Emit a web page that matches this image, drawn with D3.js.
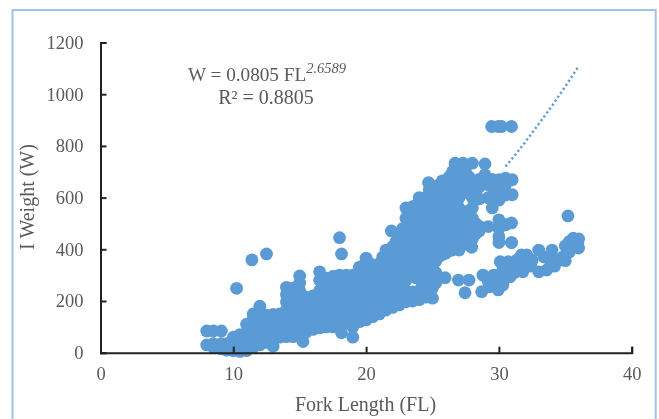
<!DOCTYPE html>
<html>
<head>
<meta charset="utf-8">
<script src="https://cdn.jsdelivr.net/npm/d3@7"></script>
<style>
  html, body { margin: 0; padding: 0; background: #fff; }
  svg { display: block; filter: blur(0.45px); }
  text { font-family: "Liberation Serif", serif; fill: #595959; }
</style>
</head>
<body>
<div id="chart"></div>
<script>
const xTicks = [0, 10, 20, 30, 40];
const yTicks = [0, 200, 400, 600, 800, 1000, 1200];

// main body of the scatter, read column by column
const lengthBins = [8, 8.5, 9.1, 9.5, 10, 10.5, 11, 11.5, 12, 12.5, 13, 13.5, 14, 14.5, 15, 15.5, 16, 16.5, 17, 17.5, 18, 18.5, 19, 19.5, 20, 20.5, 21, 21.5, 22, 22.5, 23, 23.5, 24, 24.5, 25, 25.5, 26, 26.5, 27, 27.5, 28, 28.5, 29.2, 29.5, 30, 30.5, 31];
const weightBins = [
  [30, 84],
  [20, 35, 84],
  [15, 35, 84],
  [10, 35],
  [8, 30, 60],
  [5, 30, 70],
  [8, 40, 75, 110],
  [20, 55, 90, 130, 150],
  [30, 65, 100, 140, 180],
  [40, 75, 110, 145],
  [25, 60, 95, 130, 148],
  [60, 90, 120, 150],
  [62, 90, 130, 165, 197, 225, 253],
  [62, 90, 130, 170, 200, 250],
  [80, 120, 160, 200, 240, 270, 297],
  [80, 115, 150, 190, 200],
  [90, 130, 170, 200, 220],
  [96, 130, 170, 200, 240, 280, 313],
  [100, 140, 180, 220, 260, 288],
  [100, 140, 180, 220, 260, 295],
  [110, 150, 190, 230, 270, 300],
  [115, 150, 190, 230, 270, 300],
  [100, 140, 180, 220, 260, 300],
  [120, 160, 200, 240, 280, 331],
  [127, 170, 210, 250, 290, 330, 366],
  [139, 180, 220, 260, 300, 340],
  [150, 190, 230, 270, 310, 345],
  [165, 200, 240, 280, 320, 360, 397],
  [175, 210, 250, 290, 330, 370, 410],
  [185, 220, 260, 300, 340, 380, 420, 460],
  [197, 240, 280, 320, 360, 400, 440, 480, 520, 560],
  [200, 235, 310, 350, 390, 430, 470, 510, 550, 565],
  [205, 240, 290, 330, 370, 410, 450, 490, 530, 570, 600],
  [215, 242, 285, 330, 370, 410, 450, 490, 530, 570, 600],
  [211, 250, 290, 333, 370, 410, 450, 490, 530, 570, 610, 643],
  [290, 372, 410, 450, 490, 530, 570, 610, 650],
  [385, 420, 460, 500, 540, 580, 620, 660],
  [397, 430, 470, 510, 550, 590, 630, 670, 700],
  [397, 440, 480, 520, 560, 600, 640, 690],
  [420, 460, 500, 540, 620, 660, 700],
  [440, 480, 520, 560, 600, 640, 655],
  [470, 490, 595, 640, 670],
  [488, 600, 650],
  [560, 600, 640, 670],
  [426, 449, 480, 514, 590, 630, 669],
  [495, 610, 650, 675],
  [611, 669]
];

// fish lying between those columns, the cloud is solid here
const midLengths = [13.25, 13.75, 14.25, 14.75, 15.25, 15.75, 16.25, 16.75, 17.25, 17.75, 18.25, 18.75, 19.25, 19.75, 20.25, 20.75, 21.25, 21.75, 22.25, 22.75, 23.25, 23.75, 24.25, 24.75, 25.25, 25.75, 26.25, 26.75, 27.25, 27.75, 28.25];
const midWeights = [
  [75, 110, 135],
  [75, 105, 140],
  [75, 110, 150, 185, 215],
  [75, 110, 150, 185, 230],
  [100, 140, 180, 220],
  [100, 135, 170],
  [110, 150, 185, 210],
  [115, 150, 185, 220, 260],
  [120, 160, 200, 240, 275],
  [120, 160, 200, 240, 280],
  [130, 170, 210, 250, 285],
  [130, 170, 210, 250, 285],
  [120, 160, 200, 240, 280],
  [140, 180, 220, 260, 300, 335],
  [155, 195, 235, 275, 315, 345],
  [165, 205, 245, 285, 325],
  [175, 215, 255, 295, 335, 370],
  [185, 220, 260, 300, 340, 380],
  [195, 230, 270, 310, 350, 390, 430],
  [210, 240, 280, 320, 360, 400, 440, 480],
  [215, 300, 340, 380, 420, 460, 500, 540],
  [225, 290, 330, 370, 410, 450, 490, 530, 570],
  [230, 265, 310, 350, 390, 430, 470, 510, 550, 590],
  [232, 265, 310, 350, 390, 430, 470, 510, 550, 590, 630],
  [270, 310, 355, 390, 430, 470, 510, 550, 590, 630],
  [380, 430, 470, 510, 550, 590, 630, 665],
  [395, 440, 480, 520, 560, 600, 640, 680],
  [420, 450, 490, 530, 570, 610, 650, 690],
  [420, 460, 500, 540, 620, 665, 710],
  [430, 470, 510, 550, 640, 680],
  [460, 500, 610, 650]
];

// lower right branch and the stray fish
const branchFl = [28.8, 29.3, 28.7, 29.95, 30.3, 30.85, 30.1, 30.7, 31.2, 31.7, 32.1, 31.8, 31.3, 32.5, 33, 33, 33.6, 33.85, 34, 34.45, 35, 35, 35.6, 35.95, 35.5, 36, 29.6, 30.5, 31.4, 32, 35.3, 29.2, 29.7, 30.2, 29.6, 30.3, 30.8, 31.2, 31.6, 32.4, 29.9, 33.4, 34.2, 34.8, 35.3, 35.6, 36];
const branchW = [300, 255, 236, 243, 262, 294, 352, 352, 345, 378, 378, 313, 320, 358, 397, 313, 320, 358, 397, 358, 356, 413, 443, 422, 420, 440, 285, 315, 360, 340, 390, 275, 270, 285, 300, 320, 330, 310, 340, 335, 255, 370, 335, 370, 430, 415, 405];
const strayFl = [10.25, 11.4, 12.5, 18, 18.15, 18.15, 19, 15.25, 21.9, 24.7, 25.95, 26.95, 27.75, 27.45, 27.95, 26.7, 27.3, 28, 28.95, 28.95, 30.95, 30.95, 30.95, 30.1, 29.45, 29.95, 30.2, 30.95, 35.2];
const strayW = [249, 359, 382, 445, 382, 77, 60, 43, 471, 658, 290, 281, 281, 232, 408, 733, 733, 733, 730, 688, 426, 502, 426, 502, 875, 875, 875, 875, 529];

// visible part of the dotted trend line
const trendFl = [30.5, 31, 32, 33, 34, 35, 36];
const trendW = [720, 751, 816, 885, 955, 1030, 1108];

const width = 659, height = 419;
const blue = "#5b9bd5";

const x = d3.scaleLinear().domain([0, 40]).range([100.5, 631.7]);
const y = d3.scaleLinear().domain([0, 1200]).range([352.7, 42.5]);

const svg = d3.select("#chart").append("svg")
  .attr("width", width)
  .attr("height", height);

// panel border, the bottom edge is cropped off in the reference
svg.append("path")
  .attr("d", "M12.5,419V10H655.7V419")
  .attr("fill", "none")
  .attr("stroke", "#9dc3e6")
  .attr("stroke-width", 2);

const points = [];
lengthBins.forEach((fl, i) => weightBins[i].forEach((w) => points.push([fl, w])));
midLengths.forEach((fl, i) => midWeights[i].forEach((w) => points.push([fl, w])));
branchFl.forEach((fl, i) => points.push([fl, branchW[i]]));
strayFl.forEach((fl, i) => points.push([fl, strayW[i]]));

svg.append("g").selectAll("circle").data(points).join("circle")
  .attr("cx", (d) => x(d[0]))
  .attr("cy", (d) => y(d[1]))
  .attr("r", 6.4)
  .attr("fill", blue);

const line = d3.line().x((d) => x(d[0])).y((d) => y(d[1]));
svg.append("path")
  .datum(trendFl.map((fl, i) => [fl, trendW[i]]))
  .attr("d", line)
  .attr("fill", "none")
  .attr("stroke", blue)
  .attr("stroke-width", 2.4)
  .attr("stroke-dasharray", "2.2 2.6");

const xAxis = svg.append("g")
  .attr("transform", `translate(0,${y(0)})`)
  .call(d3.axisBottom(x).tickValues(xTicks).tickFormat(d3.format("d")).tickSizeInner(-6).tickSizeOuter(-6).tickPadding(14));
const yAxis = svg.append("g")
  .attr("transform", `translate(${x(0)},0)`)
  .call(d3.axisLeft(y).tickValues(yTicks).tickFormat(d3.format("d")).tickSizeInner(-6).tickSizeOuter(-6).tickPadding(17));

[xAxis, yAxis].forEach((g) => {
  g.selectAll("path, line").attr("stroke", "#222").attr("stroke-width", 2);
  g.selectAll("text").style("font-family", '"Liberation Serif", serif').style("font-size", "18.5px").attr("fill", "#595959");
});

svg.append("text")
  .attr("x", 365.5).attr("y", 411)
  .attr("text-anchor", "middle")
  .attr("font-size", 20)
  .text("Fork Length (FL)");

svg.append("text")
  .attr("transform", "translate(34,197) rotate(-90)")
  .attr("text-anchor", "middle")
  .attr("font-size", 20)
  .text("I Weight (W)");

const eq = svg.append("text").attr("x", 188).attr("y", 81).attr("font-size", 19.2);
eq.append("tspan").text("W = 0.0805 FL");
eq.append("tspan").attr("dy", -8).attr("font-size", 14.5).attr("font-style", "italic").text("2.6589");

svg.append("text")
  .attr("x", 266).attr("y", 104)
  .attr("text-anchor", "middle")
  .attr("font-size", 20)
  .text("R² = 0.8805");
</script>
</body>
</html>
